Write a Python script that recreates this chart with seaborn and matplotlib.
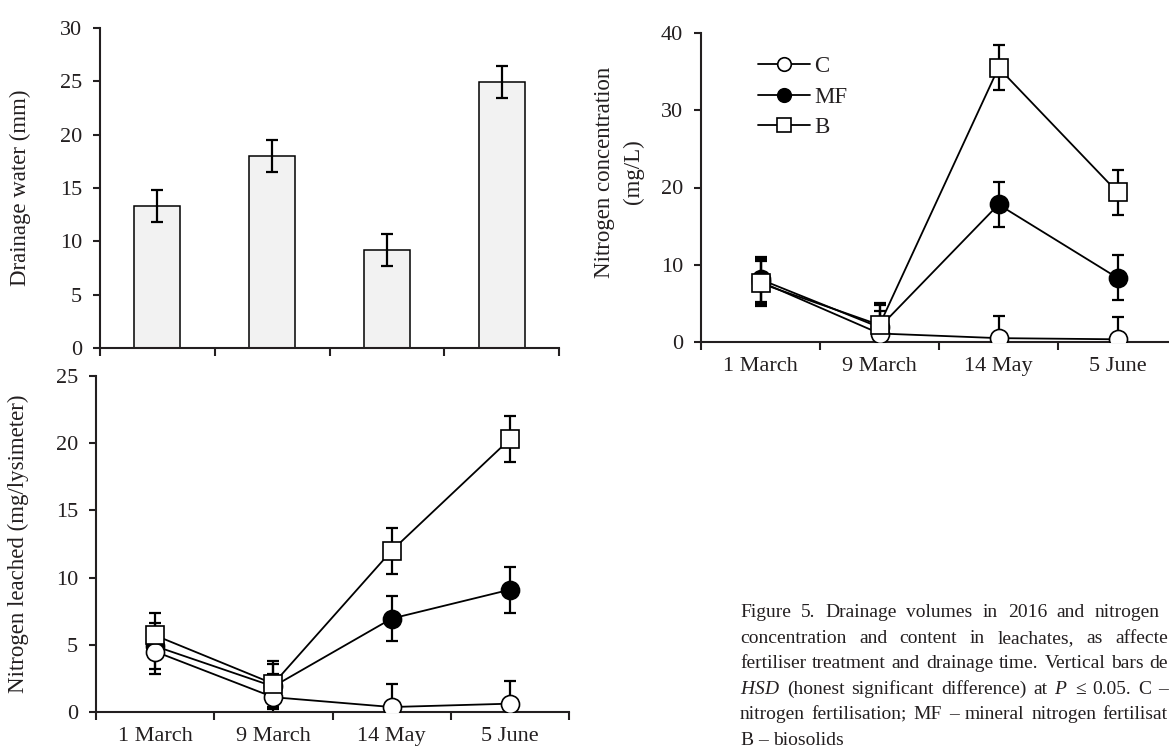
import numpy as np
import pandas as pd
import seaborn as sns
import matplotlib.pyplot as plt

# -------------------------------
# 1. Data
# -------------------------------
dates = ["1 March", "9 March", "14 May", "5 June"]

drainage = [13.3, 18.0, 9.2, 24.9]
drainage_hsd = [1.5, 1.5, 1.5, 1.5]

conc_c = [7.8, 1.1, 0.5, 0.35]
conc_mf = [8.1, 1.9, 17.8, 8.3]
conc_b = [7.6, 2.2, 35.5, 19.4]
conc_hsd = 2.9

leach_c = [4.5, 1.1, 0.37, 0.62]
leach_mf = [4.9, 1.9, 6.95, 9.1]
leach_b = [5.7, 2.1, 12.0, 20.3]
leach_hsd = 1.7

# caption as it shows in the reference (runs off the right edge there)
caption = [
    "Figure 5. Drainage volumes in 2016 and nitrogen",
    "concentration and content in leachates, as affecte",
    "fertiliser treatment and drainage time. Vertical bars de",
    "$HSD$ (honest significant difference) at $P$ \u2264 0.05. C \u2013",
    "nitrogen fertilisation; MF \u2013 mineral nitrogen fertilisat",
    "B \u2013 biosolids",
]
caption_right = [1160, 1168, 1168, 1168, 1168, None]

# -------------------------------
# 2. Style
# -------------------------------
sns.set_style("ticks")
ink = "#231f20"
plt.rcParams["font.family"] = ["Liberation Serif", "DejaVu Serif"]
plt.rcParams["mathtext.fontset"] = "custom"
plt.rcParams["mathtext.rm"] = "Liberation Serif"
plt.rcParams["mathtext.it"] = "Liberation Serif:italic"
plt.rcParams["text.color"] = ink
plt.rcParams["axes.labelcolor"] = ink
plt.rcParams["xtick.color"] = ink
plt.rcParams["ytick.color"] = ink

W, H = 1169, 751
fig = plt.figure(figsize=(W / 100, H / 100), dpi=100)
TICK_FS = 16
LABEL_FS = 16.5
CAPTION_FS = 14


def px_axes(left, right, top, bottom):
    return fig.add_axes([left / W, 1 - bottom / H, (right - left) / W, (bottom - top) / H])


def style_axis(ax, ymax, ystep, labels=True):
    x = np.arange(len(dates))
    ax.set_xlim(-0.5, len(dates) - 0.5)
    ax.set_ylim(0, ymax)
    ax.set_yticks(np.arange(0, ymax + 0.1, ystep))
    ax.set_xticks(np.arange(-0.5, len(dates), 1.0))
    ax.set_xticklabels([])
    ax.set_xticks(x, minor=True)
    ax.set_xticklabels(dates if labels else [], minor=True)
    ax.tick_params(axis="x", which="major", length=6, width=1.5, direction="out")
    ax.tick_params(axis="x", which="minor", length=0, pad=11, labelsize=TICK_FS)
    ax.tick_params(axis="y", length=5, width=1.5, direction="out", pad=8, labelsize=TICK_FS)
    sns.despine(ax=ax)
    for s in ["left", "bottom"]:
        ax.spines[s].set_linewidth(1.5)
        ax.spines[s].set_color(ink)
    ax.set_xlabel("")


def line_panel(ax, series, hsd):
    x = np.arange(len(dates))
    styles = {
        "C": dict(marker="o", markerfacecolor="white", markersize=13, zorder=4),
        "MF": dict(marker="o", markerfacecolor="black", markersize=13, zorder=3),
        "B": dict(marker="s", markerfacecolor="white", markersize=13, zorder=5),
    }
    for name, vals in series.items():
        ax.errorbar(x, vals, yerr=hsd, fmt="none", ecolor="black",
                    elinewidth=1.6, capsize=4.5, capthick=1.6, zorder=1)
    for name, vals in series.items():
        sns.lineplot(x=x, y=vals, ax=ax, color="black", linewidth=1.3,
                     markeredgecolor="black", markeredgewidth=1.2,
                     errorbar=None, label=name, **styles[name])


# -------------------------------
# 3. Drainage water (bars)
# -------------------------------
ax1 = px_axes(100, 559, 28, 348)
df_drain = pd.DataFrame({"date": dates, "drainage": drainage})
sns.barplot(data=df_drain, x="date", y="drainage", ax=ax1, color="#f2f2f2",
            edgecolor="black", linewidth=1.1, width=0.4, errorbar=None, saturation=1)
ax1.errorbar(np.arange(len(dates)), drainage, yerr=drainage_hsd, fmt="none",
             ecolor="black", elinewidth=1.6, capsize=4.5, capthick=1.6)
style_axis(ax1, 30, 5, labels=False)
ax1.set_ylabel("Drainage water (mm)", fontsize=LABEL_FS)
ax1.yaxis.set_label_coords(-0.150, 0.5)

# -------------------------------
# 4. Nitrogen concentration
# -------------------------------
ax2 = px_axes(701, 1177, 33, 342)
line_panel(ax2, {"C": conc_c, "MF": conc_mf, "B": conc_b}, conc_hsd)
style_axis(ax2, 40, 10)
ax2.set_ylabel("Nitrogen concentration\n(mg/L)", fontsize=LABEL_FS, linespacing=1.5)
ax2.yaxis.set_label_coords(-0.12, 0.55)
leg = ax2.legend(loc="upper left", bbox_to_anchor=(0.1, 0.955), frameon=False,
                 fontsize=LABEL_FS, handlelength=2.3, handletextpad=0.15,
                 labelspacing=0.42, markerscale=0.75, borderaxespad=0)

# -------------------------------
# 5. Nitrogen leached
# -------------------------------
ax3 = px_axes(96, 569, 376, 712)
line_panel(ax3, {"C": leach_c, "MF": leach_mf, "B": leach_b}, leach_hsd)
style_axis(ax3, 25, 5)
ax3.get_legend().remove()
ax3.set_ylabel("Nitrogen leached (mg/lysimeter)", fontsize=LABEL_FS)
ax3.yaxis.set_label_coords(-0.142, 0.5)

# -------------------------------
# 6. Caption, justified word by word
# -------------------------------
renderer = fig.canvas.get_renderer()
space = CAPTION_FS * 0.25 * 100 / 72
for i, (line, right) in enumerate(zip(caption, caption_right)):
    y = 1 - (617 + 25.6 * i) / H
    words = line.split(" ")
    arts = [fig.text(0, y, w, fontsize=CAPTION_FS, va="baseline", ha="left", color=ink)
            for w in words]
    widths = [a.get_window_extent(renderer).width for a in arts]
    if right is None:
        gap = space
    else:
        gap = max((right - 740 - sum(widths)) / (len(words) - 1), space * 0.9)
    xpos = 740
    for a, w in zip(arts, widths):
        a.set_x(xpos / W)
        xpos += w + gap

fig.savefig("out.png", dpi=100)
